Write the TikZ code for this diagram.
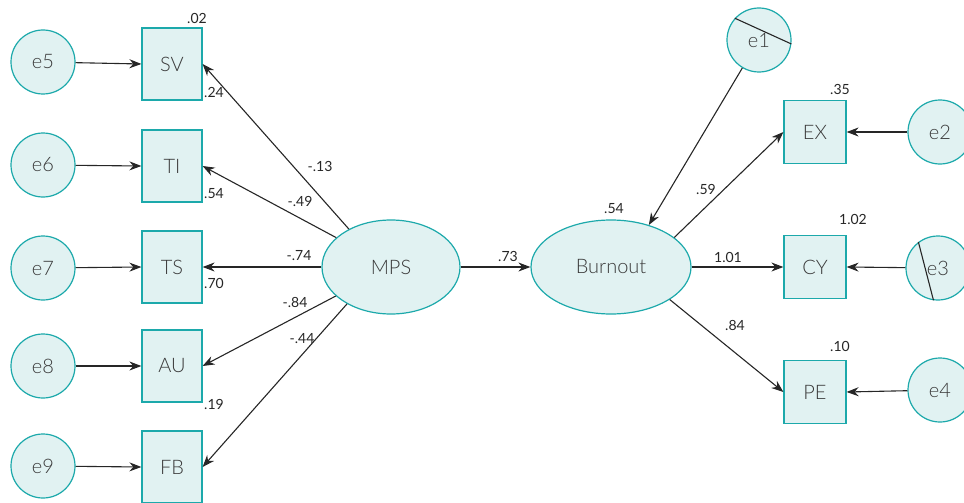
\documentclass[tikz,border=0pt]{standalone}
\usepackage{fontspec}
\setmainfont{Lato Light}
\newfontfamily\numfont{Lato}
\usetikzlibrary{arrows.meta,shapes.geometric}
\definecolor{nodefill}{HTML}{E1F2F2}
\definecolor{nodeline}{HTML}{1CA9AB}
\definecolor{txt}{HTML}{3A3A3A}
\begin{document}
\begin{tikzpicture}[x=1pt,y=-1pt,
  base/.style={draw=nodeline,fill=nodefill,line width=1.2pt,text=txt,font=\fontsize{20}{22}\selectfont,inner sep=0pt},
  errc/.style={base,circle,minimum size=64pt},
  lbox/.style={base,rectangle,minimum width=60pt,minimum height=72pt},
  rbox/.style={base,rectangle,minimum width=62pt,minimum height=63pt},
  lat/.style={base,ellipse,minimum width=138pt,minimum height=94pt},
  latb/.style={base,ellipse,minimum width=160pt,minimum height=94pt},
  arr/.style={line width=1.1pt,draw=black!85,-{Stealth[length=12pt,width=9pt]}},
  num/.style={text=black!85,font=\numfont\fontsize{14}{16}\selectfont,inner sep=0pt}]
\useasboundingbox (0,0) rectangle (964,503);
% left side
\node[errc] (e5) at (43,62) {e5};
\node[errc] (e6) at (43,165) {e6};
\node[errc] (e7) at (43,268) {e7};
\node[errc] (e8) at (43,366) {e8};
\node[errc] (e9) at (43,466) {e9};
\node[lbox] (SV) at (172,64) {SV};
\node[lbox] (TI) at (172,166) {TI};
\node[lbox] (TS) at (172,267) {TS};
\node[lbox] (AU) at (172,366) {AU};
\node[lbox] (FB) at (172,467) {FB};
\node[lat] (MPS) at (391,267) {MPS};
\node[latb] (BO) at (611,267) {Burnout};
% right side
\node[errc] (e1) at (759,40) {e1};
\node[errc] (e2) at (940,132) {e2};
\node[errc] (e3) at (938,268) {e3};
\node[errc] (e4) at (940,390) {e4};
\node[rbox] (EX) at (815,132) {EX};
\node[rbox] (CY) at (815,267) {CY};
\node[rbox] (PE) at (815,392) {PE};
\draw[line width=1.1pt,black!85] (e1.138) -- (e1.-7);
\draw[line width=1.1pt,black!85] (e3.127) -- (e3.262);
% arrows
\foreach \a/\b in {e5/SV,e6/TI,e7/TS,e8/AU,e9/FB}
  \draw[arr] (\a) -- (\b.west);
\draw[arr] (MPS.138) -- (SV.east);
\draw[arr] (MPS) -- (TI.east);
\draw[arr] (MPS) -- (TS.east);
\draw[arr] (MPS) -- (AU.east);
\draw[arr] (MPS.220) -- (FB.east);
\draw[arr] (MPS) -- (BO);
\draw[arr] (e1) -- (BO.48);
\draw[arr] (BO.25) -- (EX.west);
\draw[arr] (BO) -- (CY.west);
\draw[arr] (BO.-29) -- (PE.west);
\draw[arr] (e2) -- (EX.east);
\draw[arr] (e3) -- (CY.east);
\draw[arr] (e4) -- (PE.east);
% labels
\node[num] (l1) at (197,18) {.02};
\node[num] (l2) at (214,92) {.24};
\node[num] (l3) at (214,194) {.54};
\node[num] (l4) at (214,283) {.70};
\node[num] (l5) at (214,404) {.19};
\node[num] (l6) at (320,166) {-.13};
\node[num] (l7) at (300,201) {-.49};
\node[num] (l8) at (299,256) {-.74};
\node[num] (l9) at (295,302) {-.84};
\node[num] (l10) at (302,339) {-.44};
\node[num] (l11) at (508,256) {.73};
\node[num] (l12) at (614,209) {.54};
\node[num] (l13) at (706,189) {.59};
\node[num] (l14) at (728,257) {1.01};
\node[num] (l15) at (735,325) {.84};
\node[num] (l16) at (840,89) {.35};
\node[num] (l17) at (853,219) {1.02};
\node[num] (l18) at (840,346) {.10};
\end{tikzpicture}
\end{document}
